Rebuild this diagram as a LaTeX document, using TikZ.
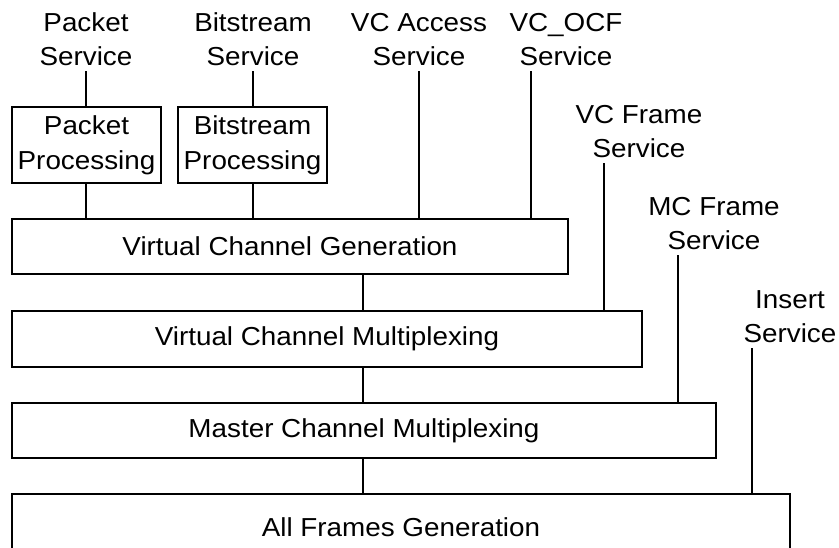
\documentclass[tikz,border=0pt]{standalone}
\usepackage{fontspec}
\setmainfont{Liberation Sans}[FakeStretch=1.07]
\begin{document}
\begin{tikzpicture}[x=1pt,y=-1pt,
  box/.style={draw,line width=1.6pt,inner sep=0pt,align=center,font=\fontsize{26}{35}\selectfont},
  svc/.style={anchor=south,inner xsep=0pt,inner ysep=5pt,align=center,font=\fontsize{26}{34}\selectfont},
  link/.style={line width=1.6pt}]
\clip (0,0) rectangle (839,547);
% boxes
\node[box,minimum width=149pt,minimum height=76pt] (pkt) at (86.5,145) {Packet\\Processing};
\node[box,minimum width=149pt,minimum height=76pt] (bit) at (252.5,145) {Bitstream\\Processing};
\node[box,minimum width=556pt,minimum height=55pt] (vcg) at (290,246.5) {Virtual Channel Generation};
\node[box,minimum width=630pt,minimum height=56pt] (vcm) at (327,339) {Virtual Channel Multiplexing};
\node[box,minimum width=704pt,minimum height=55pt] (mcm) at (364,430.5) {Master Channel Multiplexing};
\node[box,minimum width=778pt,minimum height=66pt] (afg) at (401,527) {All Frames Generation};
% service labels
\node[svc] (pktsvc) at (86,71) {Packet\\Service};
\node[svc] (bitsvc) at (253,71) {Bitstream\\Service};
\node[svc] (vcasvc) at (419,71) {VC Access\\Service};
\node[svc] (ocfsvc) at (566,71) {VC\_OCF\\Service};
\node[svc] (vcfsvc) at (639,163) {VC Frame\\Service};
\node[svc] (mcfsvc) at (714,255) {MC Frame\\Service};
\node[svc] (inssvc) at (790,348) {Insert\\Service};
% line x positions
\coordinate (mainx) at (363,0);
\coordinate (ocfx) at (531,0);
\coordinate (vcfx) at (604,0);
\coordinate (mcfx) at (678,0);
\coordinate (insx) at (752,0);
% connectors
\draw[link] (pktsvc.south) -- (pktsvc.south |- pkt.north);
\draw[link] (bitsvc.south) -- (bitsvc.south |- bit.north);
\draw[link] (pktsvc.south |- pkt.south) -- (pktsvc.south |- vcg.north);
\draw[link] (bitsvc.south |- bit.south) -- (bitsvc.south |- vcg.north);
\draw[link] (vcasvc.south) -- (vcasvc.south |- vcg.north);
\draw[link] (ocfx |- ocfsvc.south) -- (ocfx |- vcg.north);
\draw[link] (vcfx |- vcfsvc.south) -- (vcfx |- vcm.north);
\draw[link] (mcfx |- mcfsvc.south) -- (mcfx |- mcm.north);
\draw[link] (insx |- inssvc.south) -- (insx |- afg.north);
\draw[link] (mainx |- vcg.south) -- (mainx |- vcm.north);
\draw[link] (mainx |- vcm.south) -- (mainx |- mcm.north);
\draw[link] (mainx |- mcm.south) -- (mainx |- afg.north);
\end{tikzpicture}
\end{document}
